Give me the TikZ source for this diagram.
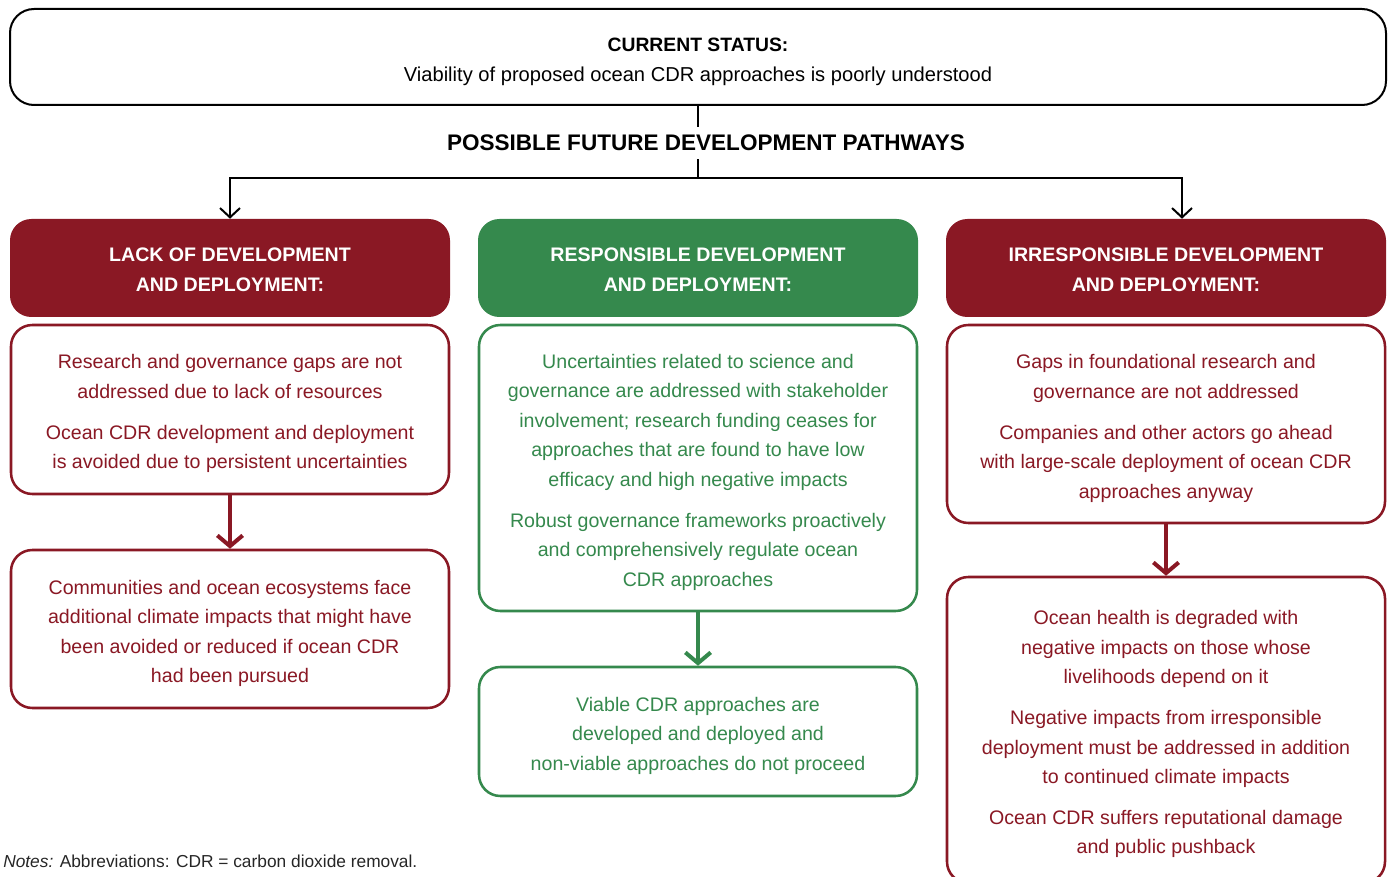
\documentclass[tikz,border=0pt]{standalone}
\usepackage{fontspec}
\setmainfont{Liberation Sans}
\usetikzlibrary{arrows.meta}
\definecolor{cred}{RGB}{138,24,36}
\definecolor{cgreen}{RGB}{53,137,77}
\begin{document}
\begin{tikzpicture}[x=0.75pt,y=-0.75pt,
  topbox/.style={draw=black, line width=1.5pt, rounded corners=18pt,
    minimum width=1032pt, minimum height=72pt, inner sep=0pt},
  toptext/.style={align=center, inner sep=0pt, yshift=-3.6pt, font=\fontsize{14.5}{22.5}\selectfont},
  hdr/.style={rounded corners=16pt, inner sep=0pt,
    minimum width=330pt, minimum height=73.5pt},
  hdrtext/.style={align=center, text=white, inner sep=0pt, yshift=-1.4pt,
    font=\fontsize{14.7}{22.5}\selectfont\bfseries},
  body/.style={rounded corners=16pt, line width=1.9pt, fill=white, inner sep=0pt,
    minimum width=328.5pt},
  bodytext/.style={align=center, inner sep=0pt, yshift=-3.2pt, font=\fontsize{14.7}{22.1}\selectfont},
  redbody/.style={body, draw=cred},
  greenbody/.style={body, draw=cgreen},
  conn/.style={draw=black, line width=1.5pt},
  connarrow/.style={conn, -{Straight Barb[length=7pt,width=15pt]}},
  thickarrow/.style={line width=3pt, -{Straight Barb[length=8pt,width=19pt]}},
  lbl/.style={fill=white, inner xsep=3pt, inner ysep=6pt, font=\fontsize{16.9}{20}\selectfont\bfseries},
  note/.style={font=\fontsize{13}{15}\selectfont, text=black!85, inner sep=0pt}
]
\useasboundingbox (0,0) rectangle (1392,877);

% top box
\node[topbox, label={[toptext]center:{\textbf{CURRENT STATUS:}\\\fontsize{15.1}{22.5}\selectfont Viability of proposed ocean CDR approaches is poorly understood}}] (top) at (698,57) {};

% connectors from top
\coordinate (j) at (698,178);
\draw[conn] (top.south) -- (j);
\node[lbl] (pathways) at (706,143) {POSSIBLE FUTURE DEVELOPMENT PATHWAYS};

% headers
\node[hdr, fill=cred, label={[hdrtext]center:{LACK OF DEVELOPMENT\\AND DEPLOYMENT:}}] (lh) at (230,268) {};
\node[hdr, fill=cgreen, label={[hdrtext]center:{RESPONSIBLE DEVELOPMENT\\AND DEPLOYMENT:}}] (mh) at (698,268) {};
\node[hdr, fill=cred, label={[hdrtext]center:{IRRESPONSIBLE DEVELOPMENT\\AND DEPLOYMENT:}}] (rh) at (1166,268) {};

\draw[connarrow] (j) -| (lh.north);
\draw[connarrow] (j) -| ([xshift=12pt]rh.north);

% left column
\node[redbody, minimum height=126.75pt, label={[bodytext, text=cred]center:{Research and governance gaps are not\\addressed due to lack of resources\\[8.6pt]Ocean CDR development and deployment\\is avoided due to persistent uncertainties}}] (l1) at (230,409.5) {};
\node[redbody, minimum height=118.5pt, label={[bodytext, text=cred]center:{Communities and ocean ecosystems face\\additional climate impacts that might have\\been avoided or reduced if ocean CDR\\had been pursued}}] (l2) at (230,629) {};
\draw[thickarrow, cred] (l1.south) -- (l2.north);

% middle column
\node[greenbody, minimum height=214.5pt, label={[bodytext, text=cgreen]center:{Uncertainties related to science and\\governance are addressed with stakeholder\\involvement; research funding ceases for\\approaches that are found to have low\\efficacy and high negative impacts\\[8.6pt]Robust governance frameworks proactively\\and comprehensively regulate ocean\\CDR approaches}}] (m1) at (698,468) {};
\node[greenbody, minimum height=96.75pt, label={[bodytext, text=cgreen]center:{Viable CDR approaches are\\developed and deployed and\\non-viable approaches do not proceed}}] (m2) at (698,731.5) {};
\draw[thickarrow, cgreen] (m1.south) -- (m2.north);

% right column
\node[redbody, minimum height=148.5pt, label={[bodytext, text=cred]center:{Gaps in foundational research and\\governance are not addressed\\[8.6pt]Companies and other actors go ahead\\with large-scale deployment of ocean CDR\\approaches anyway}}] (r1) at (1166,424) {};
\node[redbody, minimum height=229.5pt, label={[bodytext, text=cred]center:{Ocean health is degraded with\\negative impacts on those whose\\livelihoods depend on it\\[8.6pt]Negative impacts from irresponsible\\deployment must be addressed in addition\\to continued climate impacts\\[8.6pt]Ocean CDR suffers reputational damage\\and public pushback}}] (r2) at (1166,730) {};
\draw[thickarrow, cred] (r1.south) -- (r2.north);

% notes
\node[note, anchor=base west] (notes) at (3,867) {\textit{Notes:} Abbreviations: CDR = carbon dioxide removal.};
\end{tikzpicture}
\end{document}
